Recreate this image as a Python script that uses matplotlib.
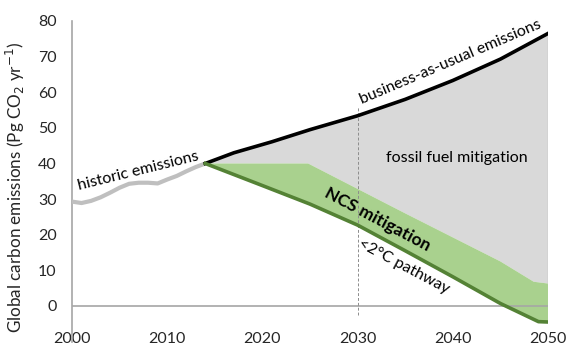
import numpy as np
import matplotlib
matplotlib.use("Agg")
import matplotlib.pyplot as plt

plt.rcParams['font.family'] = ['Lato', 'DejaVu Sans']

# ---- data ----
hist_years = [2000, 2001, 2002, 2003, 2004, 2005, 2006, 2007, 2008, 2009, 2010, 2011, 2012, 2013, 2014]
hist_vals = [29.3, 28.9, 29.5, 30.5, 31.8, 33.2, 34.3, 34.6, 34.6, 34.4, 35.5, 36.5, 37.8, 39.0, 40.0]

bau_years = [2014, 2017, 2021, 2025, 2030, 2035, 2040, 2045, 2050]
bau_vals = [40.0, 43.0, 46.1, 49.5, 53.4, 58.0, 63.3, 69.3, 76.5]

ncs_top_years = [2014, 2024.8, 2035, 2045, 2048.5, 2050]
ncs_top_vals = [40.0, 40.0, 26.0, 12.5, 6.8, 6.3]

path_years = [2014, 2020, 2025, 2030, 2035, 2040, 2045, 2049, 2050]
path_vals = [40.0, 33.8, 28.6, 22.7, 15.5, 8.2, 0.7, -4.4, -4.5]

xticks = [2000, 2010, 2020, 2030, 2040, 2050]
yticks = [0, 10, 20, 30, 40, 50, 60, 70, 80]

# ---- figure ----
W, H = 583, 359
fig = plt.figure(figsize=(W / 100, H / 100), dpi=100)
ax = fig.add_axes([72 / W, 1 - 341.6 / H, (548 - 72) / W, (341.6 - 21) / H])
ax.set_xlim(2000, 2050)
ax.set_ylim(-10, 80)

gray_fill = '#d9d9d9'
green_fill = '#a9d18e'
green_line = '#548235'
axis_col = '#a6a6a6'

# gray region: between BAU and NCS top
gx = list(bau_years) + list(ncs_top_years[::-1])
gy = list(bau_vals) + list(ncs_top_vals[::-1])
ax.fill(gx, gy, color=gray_fill, lw=0, zorder=1)
# green region
nx = list(ncs_top_years) + list(path_years[::-1])
ny = list(ncs_top_vals) + list(path_vals[::-1])
ax.fill(nx, ny, color=green_fill, lw=0, zorder=2)

# right edge of gray
ax.plot([2050, 2050], [ncs_top_vals[-1], bau_vals[-1]], color='#bfbfbf', lw=1, zorder=2)

# zero line
ax.axhline(0, color=axis_col, lw=1.2, zorder=3)
# dashed 2030 line
ax.plot([2030, 2030], [-2.5, 56], color='#8c8c8c', lw=0.7, ls=(0, (3, 2)), zorder=3)

ax.plot(hist_years, hist_vals, color='#bfbfbf', lw=3, solid_capstyle='butt', zorder=4)
ax.plot(bau_years, bau_vals, color='black', lw=2.6, zorder=5)
ax.plot(path_years, path_vals, color=green_line, lw=2.6, zorder=5)

for s in ['top', 'right', 'bottom']:
    ax.spines[s].set_visible(False)
ax.spines['left'].set_color(axis_col)
ax.spines['left'].set_linewidth(1.2)

ax.set_xticks(xticks)
ax.set_xticklabels([str(x) for x in xticks])
ax.set_yticks(yticks)
ax.set_yticklabels([str(y) for y in yticks])
ax.tick_params(axis='x', length=0, pad=-7, labelsize=11.5, colors='#262626')
ax.tick_params(axis='y', length=0, pad=11, labelsize=11.5, colors='#262626')

fig.text(15 / W, 1 - 187 / H, 'Global carbon emissions (Pg CO$_2$ yr$^{-1}$)',
         rotation=90, ha='center', va='center', fontsize=12.3, color='#262626')

tk = dict(ha='center', va='center', rotation_mode='anchor', color='black', zorder=6)
ax.text(2007.0, 37.8, 'historic emissions', rotation=14, fontsize=11.5, **tk)
ax.text(2039.8, 68.6, 'business-as-usual emissions', rotation=23, fontsize=11.5, **tk)
ax.text(2040.4, 41.6, 'fossil fuel mitigation', rotation=0, fontsize=11.5, **tk)
ax.text(2032.1, 24.4, 'NCS mitigation', rotation=-28, fontsize=12.5, fontweight='bold', **tk)
ax.text(2034.9, 11.0, '<2°C pathway', rotation=-28, fontsize=11.5, **tk)

fig.savefig('out.png', dpi=100)
